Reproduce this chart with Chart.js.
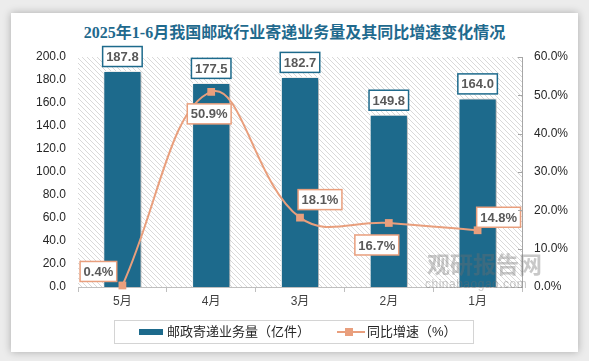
<!DOCTYPE html>
<html>
<head>
<meta charset="utf-8">
<script src="https://cdn.jsdelivr.net/npm/chart.js@4.4.1/dist/chart.umd.min.js"></script>
<style>
html,body{margin:0;padding:0;}
body{width:589px;height:361px;background:#ececec;position:relative;overflow:hidden;font-family:"Liberation Sans","Noto Sans CJK SC",sans-serif;}
#card{position:absolute;left:11px;top:13px;width:567px;height:339px;background:#fff;box-shadow:0 0 8px rgba(0,0,0,0.28);}
#title{position:absolute;left:11px;width:567px;top:23px;text-align:center;font:bold 16px "Liberation Serif","Noto Sans CJK SC",serif;color:#1f6a8e;line-height:20px;}
#chart{position:absolute;left:0;top:0;}
#legend{position:absolute;left:114px;top:320px;width:358px;height:22px;border:1px solid #d4d4d4;font-size:13px;color:#262626;}
#legend span{position:absolute;}
.wm{position:absolute;color:rgba(110,110,110,0.38);pointer-events:none;}
</style>
</head>
<body>
<div id="card"></div>
<div id="title">2025年1-6月我国邮政行业寄递业务量及其同比增速变化情况</div>
<canvas id="chart" width="589" height="361"></canvas>
<div class="wm" style="left:427px;top:250px;font:bold 23px 'Noto Sans CJK SC',sans-serif;line-height:26px;">观研报告网</div>
<div class="wm" style="left:425px;top:277px;font:12px 'Liberation Sans',sans-serif;letter-spacing:0.5px;">chinabaogao.com</div>
<div id="legend">
  <span style="left:24px;top:8px;width:24px;height:6px;background:#1d6a8c;"></span>
  <span style="left:52px;top:2px;line-height:18px;">邮政寄递业务量（亿件）</span>
  <span style="left:222px;top:10px;width:28px;height:2px;background:#e99f7d;"></span>
  <span style="left:230px;top:7px;width:8px;height:8px;background:#e99f7d;"></span>
  <span style="left:252px;top:2px;line-height:18px;">同比增速（%）</span>
</div>
<script>
var months = ['5月', '4月', '3月', '2月', '1月'];
var volume = [187.8, 177.5, 182.7, 149.8, 164.0];
var growth = [0.4, 50.9, 18.1, 16.7, 14.8];
var volumeMax = 200, volumeStep = 20;
var growthMax = 60, growthStep = 10;

// where each growth label sits relative to its point (px)
var growthLabelOffset = [[-24, -14], [-2, 22], [20, -18], [-12, 22], [21, -13]];

var barColor = '#1d6a8c';
var lineColor = '#e99f7d';

function drawBox(ctx, cx, cy, text, border) {
	ctx.font = 'bold 13px "Liberation Sans", sans-serif';
	var w = ctx.measureText(text).width + 7;
	var h = 20;
	ctx.fillStyle = '#ffffff';
	ctx.fillRect(cx - w / 2, cy - h / 2, w, h);
	ctx.strokeStyle = border;
	ctx.lineWidth = 1.5;
	ctx.strokeRect(cx - w / 2, cy - h / 2, w, h);
	ctx.fillStyle = '#595959';
	ctx.textAlign = 'center';
	ctx.textBaseline = 'middle';
	ctx.fillText(text, cx, cy + 1);
}

var hatch = {
	id: 'hatch',
	beforeDraw: function(chart) {
		var ctx = chart.ctx, a = chart.chartArea;
		var tile = document.createElement('canvas');
		tile.width = tile.height = 5;
		var t = tile.getContext('2d');
		t.strokeStyle = '#d9d9d9';
		t.lineWidth = 1;
		t.beginPath();
		t.moveTo(-1, -1); t.lineTo(6, 6);
		t.moveTo(-1, 4); t.lineTo(1, 6);
		t.moveTo(4, -1); t.lineTo(6, 1);
		t.stroke();
		ctx.save();
		ctx.fillStyle = ctx.createPattern(tile, 'repeat');
		ctx.fillRect(a.left, a.top, a.right - a.left, a.bottom - a.top);
		ctx.restore();
	}
};

var barShadow = {
	id: 'barShadow',
	beforeDatasetDraw: function(chart, args) {
		if (args.meta.type !== 'bar') return;
		var ctx = chart.ctx;
		ctx.save();
		ctx.shadowColor = 'rgba(0,0,0,0.35)';
		ctx.shadowBlur = 4;
		ctx.shadowOffsetX = 2;
		ctx.shadowOffsetY = 1;
	},
	afterDatasetDraw: function(chart, args) {
		if (args.meta.type === 'bar') chart.ctx.restore();
	}
};

var labels = {
	id: 'labels',
	afterDatasetsDraw: function(chart) {
		var ctx = chart.ctx;
		ctx.save();
		var bars = chart.getDatasetMeta(0).data;
		bars.forEach(function(b, i) {
			drawBox(ctx, b.x, b.y - 14.5, volume[i].toFixed(1), barColor);
		});
		var pts = chart.getDatasetMeta(1).data;
		pts.forEach(function(p, i) {
			var o = growthLabelOffset[i];
			drawBox(ctx, p.x + o[0], p.y + o[1], growth[i].toFixed(1) + '%', lineColor);
		});
		// small inner ticks on the right axis
		var s = chart.scales.y1;
		ctx.strokeStyle = '#a6a6a6';
		ctx.lineWidth = 1;
		s.ticks.forEach(function(t) {
			var y = Math.round(s.getPixelForValue(t.value)) + 0.5;
			ctx.beginPath();
			ctx.moveTo(s.left - 4, y);
			ctx.lineTo(s.left, y);
			ctx.stroke();
		});
		ctx.restore();
	}
};

new Chart(document.getElementById('chart'), {
	data: {
		labels: months,
		datasets: [
			{
				type: 'bar',
				label: '邮政寄递业务量（亿件）',
				data: volume,
				backgroundColor: barColor,
				borderColor: '#ffffff',
				borderWidth: 1,
				categoryPercentage: 1,
				barPercentage: 0.43,
				yAxisID: 'y',
				order: 1
			},
			{
				type: 'line',
				label: '同比增速（%）',
				data: growth,
				borderColor: lineColor,
				backgroundColor: lineColor,
				borderWidth: 2,
				tension: 0.4,
				pointStyle: 'rect',
				pointRadius: 5.5,
				pointBorderWidth: 0,
				clip: 8,
				yAxisID: 'y1',
				order: 0
			}
		]
	},
	options: {
		responsive: false,
		animation: false,
		devicePixelRatio: 1,
		layout: { padding: { top: 57, left: 0, right: 0, bottom: 0 } },
		plugins: {
			legend: { display: false },
			title: { display: false },
			tooltip: { enabled: false }
		},
		scales: {
			x: {
				offset: true,
				grid: { display: true, drawOnChartArea: false, drawTicks: true, tickLength: 5, color: '#bfbfbf', offset: true },
				border: { display: true, color: '#bfbfbf' },
				ticks: { color: '#404040', font: { size: 12, family: '"Liberation Sans","Noto Sans CJK SC",sans-serif' }, padding: 2 },
				afterFit: function(s) { s.height = 74; }
			},
			y: {
				position: 'left',
				min: 0,
				max: volumeMax,
				grid: { display: false, drawTicks: false },
				border: { display: false },
				ticks: {
					stepSize: volumeStep,
					color: '#262626',
					padding: 12,
					font: { size: 12, family: '"Liberation Sans",sans-serif' },
					callback: function(v) { return v.toFixed(1); }
				},
				afterFit: function(s) { s.width = 78; }
			},
			y1: {
				position: 'right',
				min: 0,
				max: growthMax,
				grid: { display: false, drawTicks: false },
				border: { display: true, color: '#a6a6a6' },
				ticks: {
					stepSize: growthStep,
					color: '#262626',
					padding: 12,
					font: { size: 12, family: '"Liberation Sans",sans-serif' },
					callback: function(v) { return v.toFixed(1) + '%'; }
				},
				afterFit: function(s) { s.width = 67; }
			}
		}
	},
	plugins: [hatch, barShadow, labels]
});
</script>
</body>
</html>
